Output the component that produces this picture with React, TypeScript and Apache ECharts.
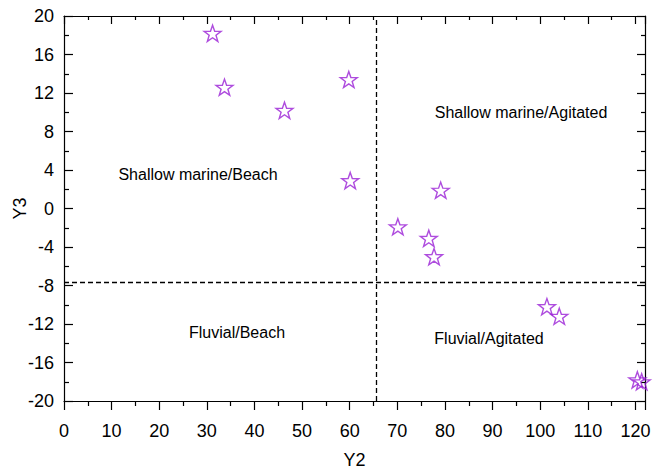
import React, { useEffect, useRef } from "react";
import * as echarts from "echarts";

const y2Values = [31.2, 33.7, 46.3, 59.8, 60.1, 79.1, 70.1, 76.6, 77.7, 101.4, 104.0, 120.4, 121.3];
const y3Values = [18.2, 12.6, 10.2, 13.4, 2.9, 1.9, -1.9, -3.1, -5.0, -10.2, -11.2, -17.8, -18.0];
const dividerY2 = 65.5;
const dividerY3 = -7.7;
const regionLabels = ["Shallow marine/Beach", "Shallow marine/Agitated", "Fluvial/Beach", "Fluvial/Agitated"];
const regionPos = [
  [198, 174],
  [521, 112],
  [237, 332],
  [489, 338],
];

const STAR =
  "path://M50 0 L61.76 33.82 L97.55 34.55 L69.02 56.18 L79.39 90.45 L50 70 L20.61 90.45 L30.98 56.18 L2.45 34.55 L38.24 33.82 Z";

export default function App() {
  const ref = useRef<HTMLDivElement>(null);
  useEffect(() => {
    if (!ref.current) return;
    const chart = echarts.init(ref.current, undefined, { renderer: "svg" });
    const font = "Liberation Sans, Arial, sans-serif";
    const axisLine = { show: true, onZero: false, lineStyle: { color: "#000", width: 1.2 } };
    chart.setOption({
      animation: false,
      backgroundColor: "#fff",
      grid: { left: 64, right: 15, top: 16, bottom: 70, containLabel: false, outerBoundsMode: "none" },
      xAxis: [
        {
          type: "value",
          min: 0,
          max: 122,
          interval: 10,
          name: "Y2",
          nameLocation: "middle",
          nameGap: 50,
          nameMoveOverlap: false,
          nameTextStyle: { fontFamily: font, fontSize: 18, color: "#000" },
          axisLine,
          axisTick: { show: true, inside: false, length: 9, lineStyle: { color: "#000", width: 1.2 } },
          minorTick: { show: true, splitNumber: 2, length: 5, lineStyle: { color: "#000", width: 1.2 } },
          axisLabel: { fontFamily: font, fontSize: 18, color: "#000", margin: 21, showMaxLabel: false },
          splitLine: { show: false },
        },
        {
          type: "value",
          position: "top",
          min: 0,
          max: 122,
          interval: 10,
          axisLine,
          axisTick: { show: true, inside: true, length: 8, lineStyle: { color: "#000", width: 1.2 } },
          minorTick: { show: true, splitNumber: 2, length: 4, lineStyle: { color: "#000", width: 1.2 } },
          axisLabel: { show: false },
          splitLine: { show: false },
        },
      ],
      yAxis: [
        {
          type: "value",
          min: -20,
          max: 20,
          interval: 4,
          name: "Y3",
          nameLocation: "middle",
          nameGap: 35,
          nameMoveOverlap: false,
          nameTextStyle: { fontFamily: font, fontSize: 18, color: "#000" },
          axisLine,
          axisTick: { show: true, inside: true, length: 9, lineStyle: { color: "#000", width: 1.2 } },
          minorTick: { show: true, splitNumber: 2, length: 5, lineStyle: { color: "#000", width: 1.2 } },
          axisLabel: { fontFamily: font, fontSize: 18, color: "#000", margin: 10 },
          splitLine: { show: false },
        },
        {
          type: "value",
          position: "right",
          min: -20,
          max: 20,
          interval: 4,
          axisLine,
          axisTick: { show: true, inside: true, length: 8, lineStyle: { color: "#000", width: 1.2 } },
          minorTick: { show: true, splitNumber: 2, length: 4, lineStyle: { color: "#000", width: 1.2 } },
          axisLabel: { show: false },
          splitLine: { show: false },
        },
      ],
      series: [
        {
          type: "scatter",
          xAxisIndex: 0,
          yAxisIndex: 0,
          symbol: STAR,
          symbolSize: 17,
          symbolKeepAspect: true,
          itemStyle: { color: "rgba(255,255,255,0)", borderColor: "#9A1FD6", borderWidth: 1.4 },
          data: y2Values.map((x, i) => [x, y3Values[i]]),
          markLine: {
            silent: true,
            symbol: "none",
            label: { show: false },
            lineStyle: { color: "#000", type: [5, 3], width: 1.3 },
            data: [{ xAxis: dividerY2 }, { yAxis: dividerY3 }],
          },
          z: 3,
        },
      ],
      graphic: regionLabels.map((t, i) => ({
        type: "text",
        x: regionPos[i][0],
        y: regionPos[i][1],
        style: {
          text: t,
          fontFamily: font,
          fontSize: 16,
          fill: "#000",
          align: "center",
          verticalAlign: "middle",
        },
      })),
    });
    return () => chart.dispose();
  }, []);
  return <div ref={ref} style={{ width: 660, height: 471, position: "absolute", left: 0, top: 0 }} />;
}
